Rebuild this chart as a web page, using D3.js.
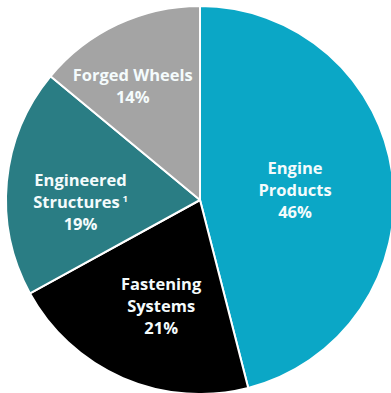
<!DOCTYPE html>
<html>
<head>
<meta charset="utf-8">
<script src="https://cdn.jsdelivr.net/npm/d3@7"></script>
<style>
  html, body { margin: 0; padding: 0; background: #ffffff; }
  svg { display: block; }
</style>
</head>
<body>
<svg id="chart" width="391" height="393"></svg>
<script>
// ---- data ----
const categories = ["Engine Products", "Fastening Systems", "Engineered Structures", "Forged Wheels"];
const values = [46, 21, 19, 14];
const labelLines = [
  ["Engine", "Products"],
  ["Fastening", "Systems"],
  ["Engineered", "Structures"],
  ["Forged Wheels"]
];
const footnotes = ["", "", "1", ""];
const colors = ["#0ba7c6", "#000000", "#2a7d84", "#a4a4a4"];

// ---- layout ----
const W = 391, H = 393;
const cx = 200, cy = 200, R = 194;
const labelR = 118;
const labelNudge = [[-22, 5], [8, -2], [-2, 14], [-17, -6.5]];
const lineH = 22;

const svg = d3.select("#chart");
const g = svg.append("g").attr("transform", `translate(${cx},${cy})`);

const pie = d3.pie().sort(null).value(d => d.value);
const data = categories.map((c, i) => ({ category: c, value: values[i], i }));
const arcs = pie(data);

const arc = d3.arc().innerRadius(0).outerRadius(R);
const labelArc = d3.arc().innerRadius(labelR).outerRadius(labelR);

g.selectAll("path.slice")
  .data(arcs)
  .join("path")
  .attr("class", "slice")
  .attr("d", arc)
  .attr("fill", d => colors[d.data.i])
  .attr("stroke", "#ffffff")
  .attr("stroke-width", 2)
  .attr("stroke-linejoin", "round");

const labels = g.selectAll("text.lbl")
  .data(arcs)
  .join("text")
  .attr("class", "lbl")
  .attr("text-anchor", "middle")
  .attr("fill", "#f4fbfc")
  .style("font-family", "'Open Sans', 'DejaVu Sans', sans-serif")
  .style("font-weight", "700")
  .style("font-size", "16.5px");

labels.each(function(d) {
  const i = d.data.i;
  const [x0, y0] = labelArc.centroid(d);
  const x = x0 + labelNudge[i][0];
  const y = y0 + labelNudge[i][1];
  const lines = labelLines[i].concat([values[i] + "%"]);
  const n = lines.length;
  const t = d3.select(this);
  lines.forEach((ln, k) => {
    t.append("tspan")
      .attr("x", x)
      .attr("y", y + (k - (n - 1) / 2) * lineH + 5.5)
      .text(ln);
    if (k === labelLines[i].length - 1 && footnotes[i]) {
      t.append("tspan").text("\u2009");
      t.append("tspan")
        .attr("dy", -6)
        .style("font-size", "9.5px")
        .text(footnotes[i]);
    }
  });
});
</script>
</body>
</html>
